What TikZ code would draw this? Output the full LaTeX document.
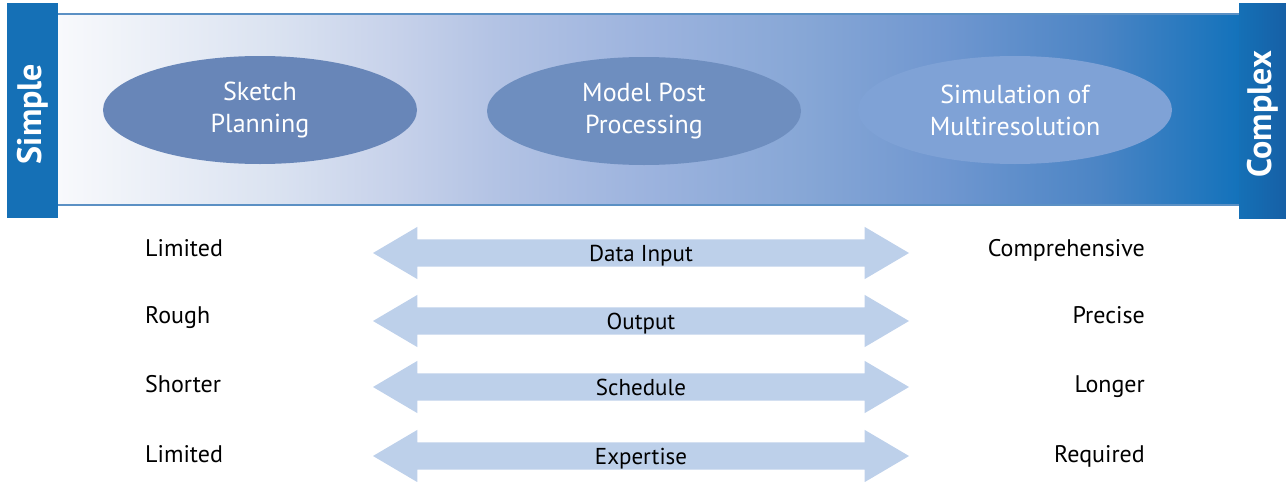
\documentclass[tikz,border=0pt]{standalone}
\usepackage{fontspec}
\setmainfont{PT Sans}
\usetikzlibrary{shapes.geometric,shapes.arrows}

\definecolor{barblue}{HTML}{1570B6}
\definecolor{bardark}{HTML}{1660A6}
\definecolor{bandline}{HTML}{5B90C4}
\definecolor{blobA}{HTML}{6886B8}
\definecolor{blobB}{HTML}{6E8EBF}
\definecolor{blobC}{HTML}{7FA2D6}
\definecolor{arrowblue}{HTML}{BDD0EA}
\definecolor{bandA}{HTML}{F8F9FC}
\definecolor{bandB}{HTML}{DBE3F1}
\definecolor{bandC}{HTML}{C6D1EA}
\definecolor{bandD}{HTML}{B3C3E4}
\definecolor{bandE}{HTML}{9CB3DE}
\definecolor{bandF}{HTML}{87A7D6}
\definecolor{bandG}{HTML}{7097D0}
\definecolor{bandH}{HTML}{4C85C5}
\definecolor{bandI}{HTML}{1372BB}

\pgfdeclarehorizontalshading{bandshade}{100bp}{color(0bp)=(bandA); color(25bp)=(bandA);
  color(34bp)=(bandB); color(39.5bp)=(bandC); color(43.5bp)=(bandD); color(50bp)=(bandE);
  color(56.5bp)=(bandF); color(62.5bp)=(bandG); color(69bp)=(bandH); color(75bp)=(bandI);
  color(100bp)=(bandI)}

\begin{document}
\begin{tikzpicture}[x=1pt,y=-1pt,
    sidetext/.style={text=white, rotate=90, inner sep=0pt, font=\fontsize{34}{36}\selectfont\bfseries},
    blob/.style={ellipse, minimum width=314pt, minimum height=108pt, inner sep=0pt,
      text=white, align=center, font=\fontsize{26}{32}\selectfont},
    dblarrow/.style={double arrow, fill=arrowblue, minimum height=536pt,
      double arrow head extend=12.5pt, double arrow tip angle=61,
      text height=18pt, text depth=1pt, inner ysep=4pt, font=\fontsize{23}{26}\selectfont},
    rowlabel/.style={inner sep=0pt, font=\fontsize{24}{26}\selectfont}]
                \useasboundingbox (0,0) rectangle (1286,482);

                % band and side bars
                \shade[shading=bandshade] (58,14) rectangle (1239,205);
                \draw[bandline, line width=1.2pt] (58,14) -- (1239,14);
                \draw[bandline, line width=2pt] (58,205) -- (1239,205);
                \fill[barblue] (7,3) rectangle (58,218);
                \shade[left color=barblue, right color=bardark] (1239,3) rectangle (1286,218);

                \node[sidetext] (simple) at (32.5,114) {Simple};
                \node[sidetext] (complex) at (1262.5,114) {Complex};

                % levels
                \node[blob, fill=blobA] (sketch) at (260,110) {Sketch\\Planning};
                \node[blob, fill=blobB] (post) at (644,111) {Model Post\\Processing};
                \node[blob, fill=blobC] (multi) at (1015,110) {Simulation of\\Multiresolution};

                % criteria
                \node[dblarrow] (input) at (641,253) {Data Input};
                \node[dblarrow] (output) at (641,321) {Output};
                \node[dblarrow] (schedule) at (641,387) {Schedule};
                \node[dblarrow] (expert) at (641,456) {Expertise};

                \node[rowlabel, anchor=base west] (inlow) at (145,256) {Limited};
                \node[rowlabel, anchor=base west] (outlow) at (145,323) {Rough};
                \node[rowlabel, anchor=base west] (schlow) at (145,392) {Shorter};
                \node[rowlabel, anchor=base west] (explow) at (145,462) {Limited};

                \node[rowlabel, anchor=base east] (inhigh) at (1145,256) {Comprehensive};
                \node[rowlabel, anchor=base east] (outhigh) at (1145,323) {Precise};
                \node[rowlabel, anchor=base east] (schhigh) at (1145,392) {Longer};
                \node[rowlabel, anchor=base east] (exphigh) at (1145,462) {Required};
\end{tikzpicture}
\end{document}
